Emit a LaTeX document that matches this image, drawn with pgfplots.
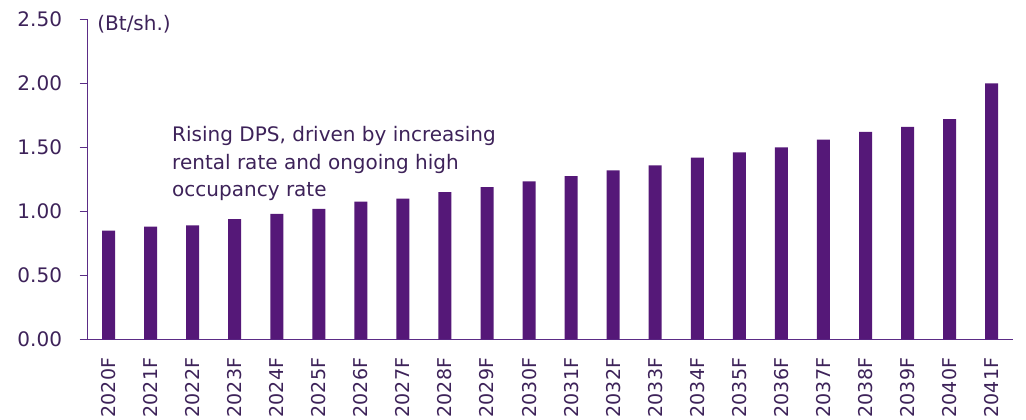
\documentclass[border=0pt]{standalone}
\usepackage{pgfplots}
\pgfplotsset{compat=1.18}
\usepackage{fontspec}
\setmainfont{DejaVu Sans}
\definecolor{barc}{HTML}{551878}
\definecolor{axc}{HTML}{5B2C86}
\definecolor{txt}{HTML}{3D2259}
\begin{document}
\begin{tikzpicture}
\begin{axis}[
  name=ax,
  scale only axis,
  width=925bp, height=320bp,
  xmin=-0.5, xmax=21.5,
  ymin=0, ymax=2.5,
  axis x line*=bottom, axis y line*=left,
  axis line style={draw=axc, line width=1.2bp},
  every tick/.style={draw=axc, line width=1.2bp},
  tick align=outside,
  major tick length=8bp,
  minor tick length=8bp,
  ytick={0,0.5,...,2.5},
  /pgf/number format/fixed,
  /pgf/number format/fixed zerofill,
  /pgf/number format/precision=2,
  /pgf/number format/assume math mode=true,
  yticklabel style={text=txt, font=\fontsize{20bp}{24bp}\selectfont, xshift=-14bp},
  xtick={0,...,21},
  xtick style={draw=none},
  minor xtick={-0.5,0.5,...,21.5},
  xticklabels={2020F,2021F,2022F,2023F,2024F,2025F,2026F,2027F,2028F,2029F,2030F,2031F,2032F,2033F,2034F,2035F,2036F,2037F,2038F,2039F,2040F,2041F},
  xticklabel style={rotate=90, anchor=east, text=txt, font=\fontsize{19bp}{23bp}\selectfont},
  xticklabel shift=7bp,
  ybar, bar width=13bp,
  clip=false,
]
\addplot[fill=barc, draw=none] coordinates {
(0,0.85) (1,0.88) (2,0.89) (3,0.94) (4,0.98) (5,1.02) (6,1.075) (7,1.10)
(8,1.15) (9,1.19) (10,1.235) (11,1.275) (12,1.32) (13,1.36) (14,1.42)
(15,1.46) (16,1.50) (17,1.56) (18,1.62) (19,1.66) (20,1.72) (21,2.00)};
\node[anchor=north west, inner sep=0pt, text=txt, font=\fontsize{20bp}{24bp}\selectfont] at (axis cs:-0.27,2.535) {(Bt/sh.)};
\node[anchor=north west, inner sep=0pt, text=txt, align=left,
  font=\fontsize{20bp}{27.5bp}\selectfont] at (axis cs:1.51,1.665) {Rising DPS, driven by increasing\\rental rate and ongoing high\\occupancy rate};
\end{axis}
\pgfresetboundingbox
\path ([xshift=-87.5bp, yshift=-79.7bp]ax.south west) rectangle ([xshift=13.3bp, yshift=19.3bp]ax.north east);
\end{tikzpicture}
\end{document}
